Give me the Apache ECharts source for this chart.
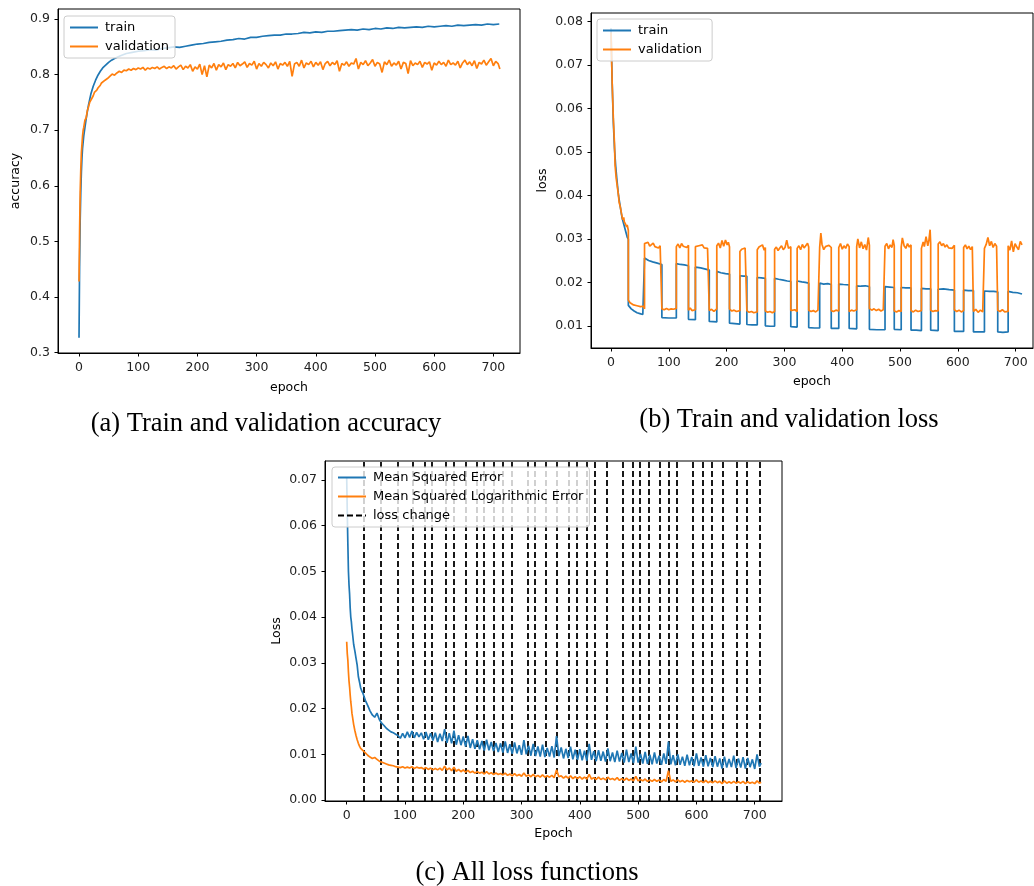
<!DOCTYPE html>
<html>
<head>
<meta charset="utf-8">
<script src="https://cdn.jsdelivr.net/npm/echarts@6/dist/echarts.min.js"></script>
<style>
html,body{margin:0;padding:0;background:#fff;}
#chart{width:1034px;height:886px;}
</style>
</head>
<body>
<div id="chart"></div>
<script>
// ---------- tick labels ----------
const epochTicks = [0, 100, 200, 300, 400, 500, 600, 700];
const accTicks = [0.3, 0.4, 0.5, 0.6, 0.7, 0.8, 0.9];
const lossTicksB = [0.01, 0.02, 0.03, 0.04, 0.05, 0.06, 0.07, 0.08];
const lossTicksC = [0.00, 0.01, 0.02, 0.03, 0.04, 0.05, 0.06, 0.07];

// ---------- (a) accuracy: [epoch, value] ----------
const accTrain = [[0,0.327],[1,0.46],[2,0.54],[3,0.59],[4,0.625],[5,0.65],[6,0.668],[8,0.69],[10,0.705],[12,0.72],[14,0.733],[16,0.745],[18,0.755],[20,0.765],[24,0.779],[28,0.79],[32,0.799],[36,0.806],[40,0.812],[45,0.817],[50,0.822],[55,0.826],[60,0.829],[70,0.834],[80,0.838],[90,0.84],[100,0.842],[110,0.843],[120,0.845],[130,0.844],[140,0.847],[150,0.848],[160,0.85],[170,0.849],[180,0.851],[190,0.853],[200,0.855],[210,0.856],[220,0.858],[230,0.859],[240,0.86],[250,0.862],[260,0.863],[270,0.865],[280,0.864],[290,0.867],[300,0.867],[310,0.869],[320,0.87],[330,0.871],[340,0.871],[350,0.873],[360,0.873],[370,0.874],[380,0.876],[390,0.875],[400,0.877],[410,0.876],[420,0.878],[430,0.878],[440,0.879],[450,0.88],[460,0.881],[470,0.88],[480,0.882],[490,0.881],[500,0.883],[510,0.882],[520,0.884],[530,0.883],[540,0.885],[550,0.884],[560,0.885],[570,0.886],[580,0.885],[590,0.887],[600,0.886],[610,0.887],[620,0.888],[630,0.887],[640,0.889],[650,0.888],[660,0.889],[670,0.89],[680,0.889],[690,0.891],[700,0.89],[710,0.891]];
const accVal = [[0,0.428],[1,0.52],[2,0.59],[3,0.63],[4,0.66],[5,0.675],[6,0.69],[7,0.70],[8,0.705],[10,0.718],[12,0.722],[14,0.735],[16,0.742],[18,0.75],[20,0.748],[22,0.758],[24,0.762],[26,0.768],[28,0.765],[30,0.772],[32,0.776],[34,0.774],[36,0.781],[38,0.785],[40,0.783],[44,0.79],[48,0.793],[52,0.797],[56,0.801],[60,0.799],[64,0.803],[68,0.806],[72,0.804],[76,0.808],[80,0.807],[84,0.81],[88,0.808],[92,0.811],[96,0.809],[100,0.812],[104,0.81],[108,0.813],[112,0.808],[116,0.812],[120,0.81],[124,0.813],[128,0.811],[132,0.814],[136,0.81],[140,0.813],[144,0.815],[148,0.811],[152,0.814],[156,0.812],[160,0.816],[164,0.81],[168,0.814],[172,0.817],[176,0.809],[180,0.815],[184,0.812],[188,0.818],[192,0.806],[196,0.814],[200,0.81],[204,0.819],[208,0.8],[212,0.816],[216,0.796],[220,0.817],[224,0.812],[228,0.82],[232,0.808],[236,0.818],[240,0.814],[244,0.821],[248,0.809],[252,0.818],[256,0.815],[260,0.82],[264,0.812],[268,0.822],[272,0.816],[276,0.819],[280,0.823],[284,0.813],[288,0.82],[292,0.817],[296,0.824],[300,0.81],[304,0.82],[308,0.815],[312,0.822],[316,0.818],[320,0.812],[324,0.821],[328,0.816],[332,0.823],[336,0.81],[340,0.82],[344,0.817],[348,0.822],[352,0.815],[356,0.824],[360,0.797],[364,0.819],[368,0.822],[372,0.815],[376,0.826],[380,0.812],[384,0.821],[388,0.818],[392,0.824],[396,0.814],[400,0.822],[404,0.817],[408,0.823],[412,0.809],[416,0.82],[420,0.824],[424,0.816],[428,0.822],[432,0.818],[436,0.825],[440,0.806],[444,0.82],[448,0.817],[452,0.823],[456,0.815],[460,0.821],[464,0.819],[468,0.829],[472,0.81],[476,0.822],[480,0.818],[484,0.825],[488,0.816],[492,0.821],[496,0.827],[500,0.815],[504,0.822],[508,0.819],[512,0.804],[516,0.823],[520,0.818],[524,0.826],[528,0.815],[532,0.821],[536,0.817],[540,0.824],[544,0.81],[548,0.822],[552,0.82],[556,0.802],[560,0.825],[564,0.816],[568,0.821],[572,0.818],[576,0.824],[580,0.813],[584,0.822],[588,0.819],[592,0.823],[596,0.808],[600,0.821],[604,0.817],[608,0.824],[612,0.818],[616,0.822],[620,0.815],[624,0.826],[628,0.818],[632,0.821],[636,0.817],[640,0.824],[644,0.812],[648,0.821],[652,0.826],[656,0.818],[660,0.823],[664,0.816],[668,0.825],[672,0.811],[676,0.822],[680,0.819],[684,0.826],[688,0.817],[692,0.823],[696,0.829],[700,0.816],[704,0.824],[708,0.82],[711,0.81]];

// ---------- (b) loss with alternating loss functions: [epoch, value] ----------
const lossTrainB = [[0,0.0785],[2,0.066],[4,0.057],[6,0.051],[8,0.047],[10,0.044],[13,0.040],[16,0.0375],[19,0.035],[22,0.0335],[25,0.032],[28,0.0305],[30,0.0300],
[30,0.0148],[35,0.0140],[40,0.0135],[45,0.0131],[50,0.0129],[55,0.0127],[58,0.0126],
[58,0.0257],[65,0.0251],[72,0.0248],[80,0.0245],[88,0.0242],
[88,0.0120],[100,0.0119],[113,0.0119],
[113,0.0244],[120,0.0242],[127,0.0241],[134,0.0239],
[134,0.0116],[146,0.0115],
[146,0.0236],[155,0.0234],[162,0.0232],[170,0.0229],
[170,0.0111],[183,0.0110],
[183,0.0226],[190,0.0223],[198,0.0221],[205,0.0220],
[205,0.0107],[214,0.0106],[223,0.0105],
[223,0.0216],[229,0.0215],[235,0.0215],
[235,0.0104],[244,0.0103],[253,0.0103],
[253,0.0212],[260,0.0211],[267,0.0210],
[267,0.0101],[275,0.0100],[283,0.0100],
[283,0.0210],[290,0.0208],[298,0.0206],[305,0.0204],[311,0.0203],
[311,0.0099],[322,0.0098],
[322,0.0204],[330,0.0202],[336,0.0201],[342,0.0199],
[342,0.0097],[352,0.0096],[361,0.0096],
[361,0.0199],[368,0.0197],[375,0.0198],[381,0.0196],
[381,0.0095],[394,0.0095],
[394,0.0197],[402,0.0196],[412,0.0195],
[412,0.0095],[425,0.0094],
[425,0.0193],[432,0.0192],[440,0.0193],[447,0.0191],
[447,0.0093],[460,0.0092],[474,0.0092],
[474,0.0191],[482,0.0190],[490,0.0189],
[490,0.0093],[502,0.0092],
[502,0.0189],[510,0.0188],[519,0.0188],
[519,0.0091],[528,0.0091],[537,0.0090],
[537,0.0187],[545,0.0186],[553,0.0186],
[553,0.0091],[566,0.0090],
[566,0.0185],[575,0.0186],[585,0.0184],[594,0.0183],
[594,0.0088],[602,0.0088],[610,0.0088],
[610,0.0183],[618,0.0182],[627,0.0182],
[627,0.0087],[636,0.0087],[646,0.0087],
[646,0.0181],[655,0.0180],[662,0.0180],[669,0.0179],
[669,0.0087],[678,0.0086],[687,0.0087],
[687,0.0180],[695,0.0178],[703,0.0177],[711,0.0174]];
const lossValB = [[0,0.0775],[2,0.066],[4,0.058],[6,0.052],[7,0.047],[9,0.044],[10,0.043],[12,0.041],[13,0.040],[14,0.0385],[15,0.0387],[16,0.0375],[18,0.036],[19,0.0353],[20,0.0345],[22,0.035],[23,0.034],[25,0.0335],[27,0.0328],[28,0.0333],[30,0.032],
[30,0.0160],[33,0.0154],[36,0.0152],[39,0.0149],[42,0.0151],[45,0.0147],[48,0.0149],[51,0.0145],[54,0.0143],[56,0.0146],[58,0.0140],
[58,0.0290],[61,0.0286],[64,0.0293],[67,0.0284],[70,0.0288],[73,0.0291],[76,0.0283],[79,0.0287],[82,0.0280],[85,0.0285],[88,0.0282],
[88,0.0140],[92,0.0138],[96,0.0141],[100,0.0138],[104,0.0140],[108,0.0139],[113,0.0141],
[113,0.0283],[116,0.0289],[119,0.0280],[122,0.0290],[125,0.0284],[128,0.0287],[131,0.0281],[134,0.0286],
[134,0.0137],[137,0.0142],[140,0.0136],[143,0.0139],[146,0.0138],
[146,0.0283],[149,0.0279],[152,0.0285],[155,0.0281],[158,0.0287],[161,0.0280],[164,0.0284],[167,0.0279],[170,0.0283],
[170,0.0136],[174,0.0139],[178,0.0134],[183,0.0140],
[183,0.0285],[186,0.0291],[189,0.0280],[192,0.0297],[195,0.0284],[198,0.0298],[201,0.0287],[203,0.0293],[205,0.0282],
[205,0.0140],[209,0.0135],[213,0.0137],[217,0.0134],[220,0.0138],[223,0.0136],
[223,0.0272],[226,0.0277],[229,0.0275],[232,0.0280],[235,0.0278],
[235,0.0136],[239,0.0132],[243,0.0134],[247,0.0131],[250,0.0135],[253,0.0133],
[253,0.0276],[256,0.0282],[259,0.0279],[262,0.0287],[265,0.0275],[267,0.0281],
[267,0.0135],[271,0.0132],[275,0.0134],[279,0.0131],[283,0.0134],
[283,0.0277],[286,0.0282],[289,0.0274],[292,0.0280],[295,0.0285],[298,0.0276],[301,0.0281],[304,0.0298],[307,0.0279],[311,0.0283],
[311,0.0136],[314,0.0133],[318,0.0138],[322,0.0134],
[322,0.0279],[325,0.0285],[328,0.0276],[331,0.0288],[334,0.0280],[337,0.0283],[340,0.0291],[342,0.0282],
[342,0.0137],[346,0.0134],[350,0.0136],[354,0.0133],[358,0.0137],[361,0.0134],
[361,0.0282],[363,0.0314],[365,0.0288],[368,0.0276],[371,0.0283],[374,0.0279],[377,0.0286],[381,0.0281],
[381,0.0136],[385,0.0134],[389,0.0137],[394,0.0135],
[394,0.0281],[397,0.0290],[400,0.0277],[403,0.0285],[406,0.0279],[409,0.0289],[412,0.0283],
[412,0.0134],[416,0.0137],[420,0.0135],[425,0.0138],
[425,0.0283],[427,0.0301],[430,0.0280],[433,0.0294],[436,0.0278],[439,0.0288],[442,0.0275],[445,0.0304],[447,0.0286],
[447,0.0141],[451,0.0137],[455,0.0140],[459,0.0136],[463,0.0139],[467,0.0135],[471,0.0138],[474,0.0136],
[474,0.0284],[477,0.0290],[480,0.0278],[483,0.0287],[486,0.0281],[488,0.0299],[490,0.0285],
[490,0.0135],[494,0.0133],[498,0.0136],[502,0.0134],
[502,0.0282],[504,0.0303],[507,0.0285],[510,0.0279],[513,0.0290],[516,0.0282],[519,0.0287],
[519,0.0136],[523,0.0133],[527,0.0137],[531,0.0134],[537,0.0136],
[537,0.0279],[540,0.0294],[542,0.0283],[545,0.0306],[548,0.0285],[550,0.0298],[552,0.0322],[553,0.0290],
[553,0.0137],[557,0.0134],[561,0.0136],[566,0.0135],
[566,0.0289],[569,0.0294],[572,0.0285],[575,0.0290],[578,0.0282],[581,0.0287],[584,0.0280],[587,0.0284],[590,0.0279],[594,0.0286],
[594,0.0138],[598,0.0134],[602,0.0137],[606,0.0133],[610,0.0136],
[610,0.0281],[613,0.0287],[616,0.0278],[619,0.0284],[622,0.0276],[625,0.0283],[627,0.0280],
[627,0.0134],[631,0.0139],[635,0.0132],[639,0.0137],[643,0.0133],[646,0.0135],
[646,0.0279],[649,0.0288],[652,0.0304],[655,0.0285],[658,0.0295],[661,0.0281],[664,0.0290],[667,0.0284],[669,0.0286],
[669,0.0137],[673,0.0134],[677,0.0138],[681,0.0133],[684,0.0136],[687,0.0134],
[687,0.0285],[690,0.0275],[693,0.0296],[696,0.0271],[699,0.0290],[702,0.0282],[705,0.0276],[708,0.0295],[711,0.0287]];

// ---------- (c) all loss functions: [epoch, value] ----------
const mseC = [[0,0.0706],[1,0.063],[2,0.056],[3,0.050],[4,0.047],[5,0.045],[6,0.042],[7,0.040],[8,0.039],[9,0.0375],[10,0.0364],[12,0.034],[14,0.0326],[16,0.031],[18,0.0295],[20,0.027],[22,0.0258],[24,0.0245],[26,0.0238],[28,0.0233],
[32,0.0218],[36,0.0207],[40,0.0195],[44,0.0186],[48,0.0181],[52,0.0190],[56,0.0176],[60,0.0168],[64,0.0163],[68,0.0157],[72,0.0153],[76,0.0149],[80,0.0147],[84,0.0144],[88,0.0141],
[92,0.0135],[96,0.0146],[100,0.0136],[104,0.0149],[108,0.0137],[112,0.0151],[116,0.0136],[120,0.0148],[124,0.0138],[128,0.0147],[132,0.0133],[136,0.0149],[140,0.0132],[144,0.0146],[148,0.0130],[152,0.0147],[156,0.0127],[160,0.0145],[164,0.0129],[168,0.0155],[172,0.0125],[176,0.0146],[180,0.0124],[184,0.0152],[188,0.0121],[192,0.0142],[196,0.0120],[200,0.0139],[204,0.0117],[208,0.0140],[212,0.0114],[216,0.0133],[220,0.0112],[224,0.0131],[228,0.0111],[232,0.0129],[236,0.0108],[240,0.0132],[244,0.0109],[248,0.0127],[252,0.0107],[256,0.0125],[260,0.0105],[264,0.0124],[268,0.0104],[272,0.0128],[276,0.0103],[280,0.0122],[284,0.0101],[288,0.0126],[292,0.0102],[296,0.0120],[300,0.0099],[304,0.0131],[308,0.0100],[312,0.0119],[316,0.0097],[320,0.0123],[324,0.0096],[328,0.0117],[332,0.0095],[336,0.0121],[340,0.0094],[344,0.0114],[348,0.0095],[352,0.0118],[356,0.0093],[360,0.0140],[364,0.0096],[368,0.0115],[372,0.0091],[376,0.0112],[380,0.0092],[384,0.0117],[388,0.0089],[392,0.0110],[396,0.0088],[400,0.0111],[404,0.0087],[408,0.0108],[412,0.0086],[416,0.0123],[420,0.0088],[424,0.0107],[428,0.0085],[432,0.0109],[436,0.0086],[440,0.0106],[444,0.0084],[448,0.0113],[452,0.0085],[456,0.0104],[460,0.0083],[464,0.0108],[468,0.0084],[472,0.0103],[476,0.0082],[480,0.0110],[484,0.0083],[488,0.0102],[492,0.0081],[496,0.0117],[500,0.0082],[504,0.0101],[508,0.0080],[512,0.0105],[516,0.0079],[520,0.0099],[524,0.0078],[528,0.0104],[532,0.0080],[536,0.0097],[540,0.0077],[544,0.0102],[548,0.0079],[552,0.0128],[556,0.0078],[560,0.0098],[564,0.0076],[568,0.0100],[572,0.0077],[576,0.0095],[580,0.0075],[584,0.0099],[588,0.0076],[592,0.0094],[596,0.0074],[600,0.0102],[604,0.0075],[608,0.0093],[612,0.0073],[616,0.0098],[620,0.0074],[624,0.0092],[628,0.0072],[632,0.0096],[636,0.0073],[640,0.0091],[644,0.0069],[648,0.0095],[652,0.0071],[656,0.0090],[660,0.0072],[664,0.0097],[668,0.0070],[672,0.0091],[676,0.0071],[680,0.0094],[684,0.0069],[688,0.0092],[692,0.0072],[696,0.0089],[700,0.0068],[704,0.0100],[708,0.0073],[711,0.0081]];
const msleC = [[0,0.0346],[1,0.032],[2,0.0306],[3,0.028],[4,0.026],[5,0.0247],[6,0.023],[7,0.0215],[8,0.0204],[9,0.019],[10,0.0182],[12,0.0165],[14,0.0152],[16,0.0141],[18,0.0132],[20,0.0124],[22,0.0118],[24,0.0113],[26,0.0110],[28,0.0108],
[32,0.0103],[36,0.0098],[40,0.0094],[44,0.0091],[48,0.0093],[52,0.0089],[56,0.0085],[60,0.0083],[64,0.0081],[68,0.0079],[72,0.0077],[76,0.0076],[80,0.0075],[84,0.0073],[88,0.0072],[92,0.0071],[96,0.0073],[100,0.0070],[104,0.0072],[108,0.0070],[112,0.0073],[116,0.0069],[120,0.0072],[124,0.0070],[128,0.0071],[132,0.0068],[136,0.0071],[140,0.0067],[144,0.0070],[148,0.0066],[152,0.0069],[156,0.0066],[160,0.0070],[164,0.0065],[168,0.0074],[172,0.0066],[176,0.0070],[180,0.0064],[184,0.0072],[188,0.0063],[192,0.0067],[196,0.0062],[200,0.0066],[204,0.0061],[208,0.0065],[212,0.0060],[216,0.0063],[220,0.0059],[224,0.0062],[228,0.0059],[232,0.0061],[236,0.0057],[240,0.0062],[244,0.0057],[248,0.0060],[252,0.0056],[256,0.0059],[260,0.0056],[264,0.0058],[268,0.0055],[272,0.0059],[276,0.0054],[280,0.0057],[284,0.0053],[288,0.0058],[292,0.0053],[296,0.0056],[300,0.0052],[304,0.0059],[308,0.0052],[312,0.0055],[316,0.0051],[320,0.0056],[324,0.0051],[328,0.0054],[332,0.0050],[336,0.0055],[340,0.0050],[344,0.0053],[348,0.0050],[352,0.0054],[356,0.0049],[360,0.0066],[364,0.0051],[368,0.0053],[372,0.0048],[376,0.0052],[380,0.0048],[384,0.0053],[388,0.0047],[392,0.0051],[396,0.0047],[400,0.0051],[404,0.0046],[408,0.0050],[412,0.0046],[416,0.0056],[420,0.0046],[424,0.0049],[428,0.0045],[432,0.0050],[436,0.0045],[440,0.0048],[444,0.0044],[448,0.0050],[452,0.0045],[456,0.0047],[460,0.0044],[464,0.0049],[468,0.0043],[472,0.0047],[476,0.0043],[480,0.0048],[484,0.0043],[488,0.0046],[492,0.0042],[496,0.0052],[500,0.0042],[504,0.0045],[508,0.0042],[512,0.0046],[516,0.0041],[520,0.0044],[524,0.0041],[528,0.0045],[532,0.0041],[536,0.0044],[540,0.0040],[544,0.0045],[548,0.0041],[552,0.0064],[556,0.0041],[560,0.0044],[564,0.0040],[568,0.0044],[572,0.0040],[576,0.0043],[580,0.0039],[584,0.0043],[588,0.0040],[592,0.0042],[596,0.0039],[600,0.0044],[604,0.0039],[608,0.0042],[612,0.0038],[616,0.0043],[620,0.0038],[624,0.0041],[628,0.0038],[632,0.0042],[636,0.0038],[640,0.0041],[644,0.0036],[648,0.0042],[652,0.0037],[656,0.0040],[660,0.0037],[664,0.0041],[668,0.0037],[672,0.0040],[676,0.0037],[680,0.0041],[684,0.0036],[688,0.0040],[692,0.0037],[696,0.0039],[700,0.0036],[704,0.0042],[708,0.0037],[711,0.0039]];
const lossChangeEpochs = [30, 58, 88, 113, 134, 146, 170, 183, 205, 223, 235, 253, 267, 283, 311, 322, 342, 361, 381, 394, 412, 425, 447, 474, 490, 502, 519, 537, 553, 566, 594, 610, 627, 646, 669, 687, 709];

// ---------- rendering ----------
const BLUE = '#1f77b4', ORANGE = '#ff7f0e';
const FONT = 'DejaVu Sans';
const LW = 1.7;
const chart = echarts.init(document.getElementById('chart'), null, {renderer: 'canvas'});

function xAxisCfg(gi, min, max, name, gap) {
  return {
    type: 'value', gridIndex: gi, min: min, max: max,
    name: name, nameLocation: 'middle', nameGap: gap,
    nameTextStyle: {fontFamily: FONT, fontSize: 12.5, color: '#000'},
    axisLine: {show: true, onZero: false, lineStyle: {color: '#000', width: 1}},
    axisTick: {show: true, inside: false, customValues: epochTicks, length: 3.5, lineStyle: {color: '#000', width: 1}},
    axisLabel: {customValues: epochTicks, fontFamily: FONT, fontSize: 12.5, color: '#222', margin: 8},
    splitLine: {show: false}
  };
}
function yAxisCfg(gi, min, max, ticks, dec, name, gap) {
  return {
    type: 'value', gridIndex: gi, min: min, max: max,
    name: name, nameLocation: 'middle', nameGap: gap,
    nameTextStyle: {fontFamily: FONT, fontSize: 12.5, color: '#000'},
    axisLine: {show: true, onZero: false, lineStyle: {color: '#000', width: 1}},
    axisTick: {show: true, inside: false, customValues: ticks, length: 3.5, lineStyle: {color: '#000', width: 1}},
    axisLabel: {customValues: ticks, fontFamily: FONT, fontSize: 12.5, color: '#222', margin: 8,
      formatter: v => Number(v).toFixed(dec)},
    splitLine: {show: false}
  };
}
function lineSeries(name, data, color, xi, yi) {
  return {
    name: name, type: 'line', data: data, xAxisIndex: xi, yAxisIndex: yi,
    showSymbol: false, symbol: 'none', animation: false, clip: true,
    lineStyle: {color: color, width: LW}, itemStyle: {color: color}
  };
}
const legendBase = {
  orient: 'vertical', backgroundColor: 'rgba(255,255,255,0.8)', borderColor: '#cccccc',
  borderWidth: 1, borderRadius: 3, itemWidth: 28, itemHeight: 14, itemGap: 6,
  selectedMode: false, z: 10,
  itemStyle: {opacity: 0},
  textStyle: {fontFamily: FONT, fontSize: 13, color: '#000', padding: [0, 0, 0, 2]}
};

const option = {
  backgroundColor: '#fff',
  animation: false,
  grid: [
    {left: 58, top: 9, width: 462, height: 344, show: true, borderColor: '#000', borderWidth: 1, backgroundColor: 'transparent'},
    {left: 591, top: 13, width: 442, height: 335, show: true, borderColor: '#000', borderWidth: 1, backgroundColor: 'transparent'},
    {left: 325, top: 461, width: 457, height: 340, show: true, borderColor: '#000', borderWidth: 1, backgroundColor: 'transparent'}
  ],
  xAxis: [
    xAxisCfg(0, -35.5, 745, 'epoch', 28),
    xAxisCfg(1, -34.6, 730, 'epoch', 27),
    xAxisCfg(2, -37.2, 746.8, 'Epoch', 26)
  ],
  yAxis: [
    yAxisCfg(0, 0.2995, 0.918, accTicks, 1, 'accuracy', 36),
    yAxisCfg(1, 0.005, 0.082, lossTicksB, 2, 'loss', 42),
    yAxisCfg(2, -0.0002, 0.0741, lossTicksC, 2, 'Loss', 42)
  ],
  legend: [
    Object.assign({}, legendBase, {left: 64, top: 16, padding: [5, 6, 5, 5], data: ['train', 'validation']}),
    Object.assign({}, legendBase, {left: 597, top: 19, padding: [5, 6, 5, 5], data: ['train ', 'validation ']}),
    Object.assign({}, legendBase, {left: 332, top: 467, padding: [4, 6, 5, 5], data: ['Mean Squared Error', 'Mean Squared Logarithmic Error', 'loss change']})
  ],
  series: [
    lineSeries('train', accTrain, BLUE, 0, 0),
    lineSeries('validation', accVal, ORANGE, 0, 0),
    lineSeries('train ', lossTrainB, BLUE, 1, 1),
    lineSeries('validation ', lossValB, ORANGE, 1, 1),
    lineSeries('Mean Squared Error', mseC, BLUE, 2, 2),
    lineSeries('Mean Squared Logarithmic Error', msleC, ORANGE, 2, 2),
    {
      name: 'loss change', type: 'line', data: [], xAxisIndex: 2, yAxisIndex: 2,
      showSymbol: false, symbol: 'none', animation: false,
      lineStyle: {color: '#000', width: 1.8, type: [6, 3]}, itemStyle: {color: '#000'},
      markLine: {
        silent: true, symbol: ['none', 'none'], animation: false, z: 3,
        label: {show: false},
        lineStyle: {color: '#000', width: 1.8, type: [6, 3]},
        emphasis: {disabled: true},
        data: lossChangeEpochs.map(e => ({xAxis: e}))
      }
    }
  ],
  graphic: [
    {type: 'text', x: 266, y: 424, style: {text: '(a) Train and validation accuracy', font: '26.5px "Liberation Serif"', fill: '#000', align: 'center', verticalAlign: 'middle'}},
    {type: 'text', x: 789, y: 420, style: {text: '(b) Train and validation loss', font: '26.5px "Liberation Serif"', fill: '#000', align: 'center', verticalAlign: 'middle'}},
    {type: 'text', x: 527, y: 873, style: {text: '(c) All loss functions', font: '26.5px "Liberation Serif"', fill: '#000', align: 'center', verticalAlign: 'middle'}}
  ]
};
chart.setOption(option);
</script>
</body>
</html>
